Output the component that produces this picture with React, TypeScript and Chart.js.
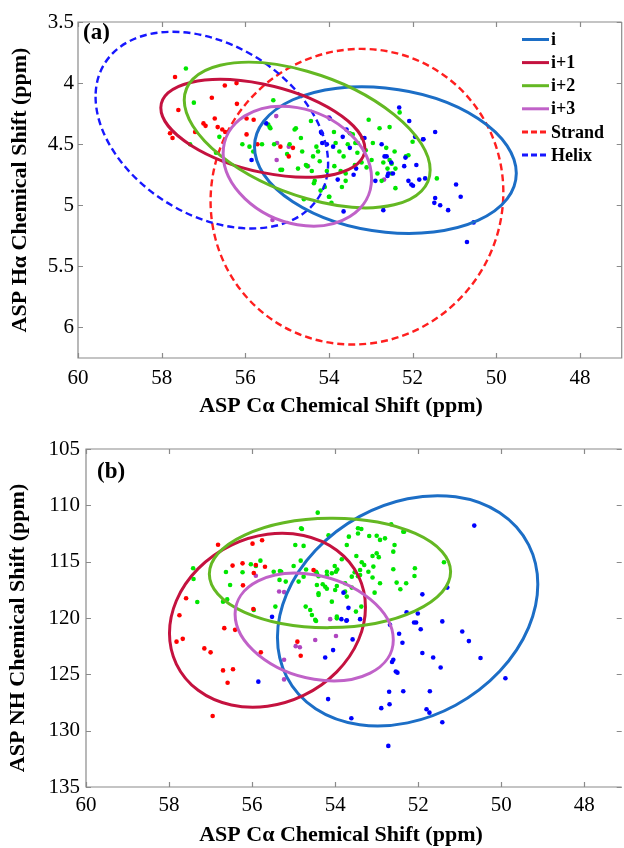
import React, { useEffect, useRef } from 'react';
import { Chart, registerables } from 'chart.js';
Chart.register(...registerables);

// ---------- tick labels ----------
const xTicks = [60, 58, 56, 54, 52, 50, 48];
const aYTicks = [3.5, 4, 4.5, 5, 5.5, 6];
const bYTicks = [105, 110, 115, 120, 125, 130, 135];

// ---------- categories ----------
const seriesLabels = ['i', 'i+1', 'i+2', 'i+3'];
const regionLabels = ['Strand', 'Helix'];

// ---------- panel (a): Cα vs Hα scatter ----------
const aI: number[][] = [
  [53.98, 4.29], [54.17, 4.41], [53.9, 4.52], [54.05, 4.5], [53.67, 4.44], [53.79, 4.79], [53.65, 5.05],
  [53.41, 4.75], [53.5, 4.53], [53.35, 4.7], [52.74, 4.5], [52.67, 4.6], [52.62, 4.6], [52.89, 4.8],
  [52.58, 4.74], [52.6, 4.76], [52.51, 4.65], [52.7, 5.04], [52.32, 4.2], [52.08, 4.31], [52.17, 4.61],
  [52.2, 4.68], [52.1, 4.8], [52.03, 4.83], [51.94, 4.44], [51.91, 4.67], [51.84, 4.79], [51.75, 4.46],
  [51.7, 4.78], [51.46, 4.4], [51.46, 4.94], [51.34, 5.0], [51.15, 5.04], [50.96, 4.83], [50.85, 4.93],
  [50.54, 5.14], [50.7, 5.3], [55.5, 4.33], [55.85, 4.63], [54.16, 4.49], [53.58, 4.38], [53.15, 4.45],
  [52.47, 4.74], [51.99, 4.84], [51.74, 4.46], [54.19, 4.4], [51.48, 4.98]
];
const aI1: number[][] = [
  [57.68, 3.95], [57.6, 4.22], [57.8, 4.41], [57.74, 4.45], [57.2, 4.4], [57.0, 4.33], [56.95, 4.35],
  [56.8, 4.12], [56.73, 4.29], [56.66, 4.36], [56.49, 4.02], [56.48, 4.4], [56.21, 4.0], [56.2, 4.17],
  [55.97, 4.29], [55.8, 4.3], [55.97, 4.42], [55.71, 4.5], [55.16, 4.52], [54.96, 4.6], [54.86, 4.53],
  [56.55, 4.38]
];
const aI2: number[][] = [
  [57.42, 3.88], [57.23, 4.16], [57.32, 4.5], [56.62, 4.44], [56.7, 4.57], [56.07, 4.5], [55.9, 4.52],
  [55.81, 4.56], [55.6, 4.5], [55.45, 4.34], [55.4, 4.37], [55.33, 4.14], [55.31, 4.5], [55.12, 4.71],
  [54.79, 4.37], [54.67, 4.45], [54.64, 4.56], [54.55, 4.67], [54.41, 4.72], [54.36, 4.82], [54.26, 4.56],
  [54.22, 4.64], [54.1, 4.85], [53.99, 4.93], [53.94, 4.98], [53.88, 4.4], [53.84, 4.49], [53.69, 4.85],
  [53.65, 4.6], [53.6, 4.74], [53.55, 4.5], [53.5, 4.41], [53.38, 4.67], [53.37, 4.49], [53.32, 4.57],
  [53.22, 4.65], [53.12, 4.55], [53.05, 4.3], [52.98, 4.63], [52.95, 4.49], [52.84, 4.74], [52.79, 4.37],
  [52.74, 4.8], [52.7, 4.65], [52.55, 4.63], [52.51, 4.74], [52.43, 4.56], [52.41, 4.7], [52.55, 4.36],
  [52.31, 4.24], [52.16, 4.6], [52.1, 4.59], [52.41, 4.86], [51.42, 4.78], [55.42, 4.36], [54.82, 4.38],
  [55.16, 4.71], [54.74, 4.7], [54.52, 4.68], [54.43, 4.31], [54.38, 4.6], [54.34, 4.8], [54.2, 4.88],
  [54.0, 4.93], [53.87, 4.68], [53.75, 4.56], [53.72, 4.72], [53.6, 4.8], [53.43, 4.42], [53.31, 4.49],
  [53.2, 4.45], [53.15, 4.55], [53.1, 4.69], [52.63, 4.53], [52.6, 4.7], [52.5, 4.66], [52.0, 4.48],
  [54.94, 4.5], [55.0, 4.58], [54.6, 4.95], [54.05, 4.72], [54.3, 4.52]
];
const aI3: number[][] = [
  [55.26, 4.27], [55.24, 4.49], [55.25, 4.63], [54.96, 4.52], [54.5, 4.68], [54.0, 4.28], [52.68, 4.79],
  [55.35, 5.12]
];

// ---------- panel (b): Cα vs NH scatter ----------
const bI: number[][] = [
  [50.65, 111.8], [51.3, 117.3], [51.9, 117.9], [53.8, 117.75], [53.68, 119.1], [53.73, 120.25], [53.4, 120.1],
  [53.58, 121.9], [54.05, 122.85], [54.24, 123.5], [54.17, 127.2], [53.61, 128.9], [52.72, 131.35],
  [52.68, 120.6], [52.46, 121.4], [52.38, 122.2], [52.6, 123.7], [52.63, 123.9], [52.54, 124.75],
  [52.5, 124.85], [52.7, 126.55], [52.69, 127.65], [52.89, 128.0], [52.36, 126.5], [52.28, 119.5],
  [52.1, 120.4], [52.05, 120.4], [52.01, 119.6], [51.94, 121.0], [51.9, 123.1], [51.64, 123.5],
  [51.46, 124.4], [51.72, 126.5], [51.8, 128.1], [51.73, 128.4], [51.42, 129.25], [51.42, 120.3],
  [50.94, 121.2], [50.78, 122.05], [50.5, 123.55], [49.9, 125.35], [55.52, 119.9], [55.85, 125.65],
  [53.72, 120.2], [53.85, 120.1]
];
const bI1: number[][] = [
  [56.82, 113.5], [55.99, 113.4], [55.76, 113.1], [56.47, 115.35], [56.23, 115.15], [55.91, 115.3],
  [55.69, 115.45], [56.22, 117.1], [55.96, 116.0], [57.59, 118.25], [57.75, 119.75], [57.82, 122.1],
  [57.67, 121.85], [56.67, 120.9], [56.41, 121.05], [55.97, 119.2], [57.15, 122.7], [57.0, 123.05],
  [56.7, 124.65], [56.46, 124.55], [56.59, 125.75], [56.95, 128.7], [55.79, 123.05], [54.52, 115.75],
  [54.83, 123.35], [54.91, 122.1]
];
const bI2: number[][] = [
  [54.42, 110.65], [54.8, 112.1], [54.16, 112.66], [53.45, 112.5], [53.37, 112.1], [53.72, 113.52],
  [53.18, 112.72], [53.0, 112.7], [52.92, 113.07], [52.8, 112.93], [52.65, 111.68], [52.57, 113.52],
  [52.36, 112.34], [52.6, 114.11], [53.0, 114.26], [53.1, 114.5], [52.95, 114.6], [53.84, 114.79],
  [53.49, 114.5], [53.36, 115.05], [53.3, 115.3], [53.08, 115.44], [53.2, 115.9], [53.53, 115.94],
  [53.45, 116.3], [54.01, 115.38], [53.95, 115.7], [54.08, 116.03], [53.76, 116.92], [53.6, 117.3],
  [54.46, 115.89], [54.4, 116.3], [54.2, 116.2], [54.83, 114.91], [54.76, 116.33], [54.7, 115.7],
  [54.4, 117.81], [54.3, 117.0], [54.2, 117.4], [53.96, 117.16], [53.72, 118.1], [53.4, 116.18],
  [53.1, 116.4], [53.05, 117.75], [52.92, 116.92], [52.6, 115.67], [52.52, 116.86], [52.43, 117.45],
  [52.29, 116.92], [52.08, 115.59], [52.09, 116.27], [51.38, 115.05], [54.56, 119.73], [54.46, 120.26],
  [53.96, 119.88], [53.5, 119.43], [53.37, 118.99], [54.71, 118.99], [54.6, 119.29], [54.4, 117.96],
  [54.08, 118.55], [53.76, 117.66], [54.48, 120.17], [53.96, 120.03], [57.42, 115.59], [57.41, 116.54],
  [57.32, 118.58], [56.63, 115.92], [56.53, 117.07], [56.23, 115.94], [56.03, 115.23], [55.91, 115.38],
  [55.8, 114.91], [55.48, 115.89], [55.33, 115.83], [55.34, 116.62], [55.0, 115.38], [55.19, 116.77],
  [54.88, 116.77], [55.44, 118.99], [56.7, 118.55], [55.96, 119.29], [54.96, 113.52], [54.76, 113.6],
  [54.82, 112.04], [54.44, 116.03], [54.2, 115.89], [53.98, 115.89], [53.6, 116.33], [53.4, 115.74],
  [54.44, 117.07], [54.24, 117.22], [54.0, 117.51], [53.67, 112.78], [53.45, 112.04], [52.34, 112.34],
  [56.6, 118.35], [55.3, 115.9]
];
const bI3: number[][] = [
  [55.91, 116.25], [55.23, 117.7], [55.35, 117.65], [54.12, 120.1], [54.48, 121.95], [53.98, 121.6],
  [54.95, 122.5], [54.85, 122.6], [55.23, 123.7], [55.23, 125.45]
];

// ---------- ellipse parameters (centre, half-extent, correlation) ----------
// order: i, i+1, i+2, i+3, Strand, Helix
const aEllCx = [52.65, 55.58, 54.52, 54.755, 53.33, 56.8];
const aEllCy = [4.63, 4.37, 4.425, 4.68, 4.93, 4.385];
const aEllSx = [3.13, 2.44, 2.94, 1.775, 3.5, 2.78];
const aEllSy = [0.6, 0.4, 0.595, 0.49, 1.21, 0.805];
const aEllRho = [-0.18, -0.42, -0.48, -0.21, 0.03, -0.34];
// order: i, i+1, i+2, i+3
const bEllCx = [52.255, 55.63, 54.125, 54.505];
const bEllCy = [119.36, 120.2, 116.0, 120.8];
const bEllSx = [3.135, 2.36, 2.905, 1.905];
const bEllSy = [10.22, 7.72, 4.855, 4.78];
const bEllRho = [0.23, 0.15, 0.02, -0.24];

// ---------- styles ----------
const FONT = "'Liberation Serif', 'Times New Roman', serif";
const lineColors = ['#1c6ec6', '#c4123f', '#64b823', '#c062c8', '#ff1f1f', '#1717ff'];
const dotColors = ['#0000ff', '#ff0000', '#00e600', '#b045c0'];
const lineDash = [[], [], [], [], [7, 4], [7, 4]];
const lineWidths = [3, 3, 3, 3, 2.4, 2.4];
const FRAME = '#8a8a8a';

type PanelOpts = {
  ellipses: { cx: number[]; cy: number[]; sx: number[]; sy: number[]; rho: number[] };
  panelLabel: string;
  labelPos: [number, number];
  xTitle: string;
  xTitlePos: [number, number];
  yTitle: string;
  yTitlePos: [number, number];
  legend: boolean;
  rightBorder: boolean;
  yTicks: number[];
};

function overlayPlugin(o: PanelOpts) {
  return {
    id: 'overlay',
    afterDatasetsDraw(chart: any) {
      const ctx = chart.ctx as CanvasRenderingContext2D;
      const a = chart.chartArea;
      const xs = chart.scales.x;
      const ys = chart.scales.y;
      ctx.save();
      ctx.beginPath();
      ctx.rect(a.left, a.top, a.right - a.left, a.bottom - a.top);
      ctx.clip();
      const e = o.ellipses;
      const order = e.cx.map((_, i) => i).sort((p, q) => (p >= 4 ? 0 : 1) - (q >= 4 ? 0 : 1));
      for (const i of order) {
        const cxp = xs.getPixelForValue(e.cx[i]);
        const cyp = ys.getPixelForValue(e.cy[i]);
        const kx = xs.getPixelForValue(e.cx[i] + e.sx[i]) - cxp;
        const ky = ys.getPixelForValue(e.cy[i] + e.sy[i]) - cyp;
        const r = e.rho[i];
        ctx.beginPath();
        ctx.save();
        ctx.transform(kx, ky * r, 0, ky * Math.sqrt(1 - r * r), cxp, cyp);
        ctx.arc(0, 0, 1, 0, Math.PI * 2);
        ctx.restore();
        ctx.strokeStyle = lineColors[i];
        ctx.lineWidth = lineWidths[i];
        ctx.setLineDash(lineDash[i]);
        ctx.stroke();
      }
      ctx.restore();
    },
    afterDraw(chart: any) {
      const ctx = chart.ctx as CanvasRenderingContext2D;
      const a = chart.chartArea;
      const xs = chart.scales.x;
      const ys = chart.scales.y;
      ctx.save();
      ctx.strokeStyle = FRAME;
      ctx.lineWidth = 1.2;
      ctx.setLineDash([]);
      ctx.beginPath();
      ctx.moveTo(a.right, a.top);
      ctx.lineTo(a.left, a.top);
      ctx.lineTo(a.left, a.bottom);
      ctx.lineTo(a.right, a.bottom);
      if (o.rightBorder) ctx.lineTo(a.right, a.top);
      ctx.stroke();
      const TL = 5;
      ctx.beginPath();
      for (const v of xTicks) {
        const px = Math.round(xs.getPixelForValue(v)) + 0.5;
        ctx.moveTo(px, a.bottom);
        ctx.lineTo(px, a.bottom - TL);
        ctx.moveTo(px, a.top);
        ctx.lineTo(px, a.top + TL);
      }
      for (const v of o.yTicks) {
        const py = Math.round(ys.getPixelForValue(v)) + 0.5;
        ctx.moveTo(a.left, py);
        ctx.lineTo(a.left + TL, py);
        ctx.moveTo(a.right, py);
        ctx.lineTo(a.right - TL, py);
      }
      ctx.stroke();

      // titles
      ctx.fillStyle = '#000';
      ctx.font = `bold 22px ${FONT}`;
      ctx.textAlign = 'center';
      ctx.textBaseline = 'middle';
      ctx.fillText(o.xTitle, o.xTitlePos[0], o.xTitlePos[1]);
      ctx.save();
      ctx.translate(o.yTitlePos[0], o.yTitlePos[1]);
      ctx.rotate(-Math.PI / 2);
      ctx.fillText(o.yTitle, 0, 0);
      ctx.restore();

      ctx.font = `bold 23px ${FONT}`;
      ctx.textAlign = 'left';
      ctx.fillText(o.panelLabel, o.labelPos[0], o.labelPos[1]);

      if (o.legend) {
        const labels = [...seriesLabels, ...regionLabels];
        ctx.font = `bold 18px ${FONT}`;
        labels.forEach((lab, i) => {
          const y = 39.5 + i * 23.1;
          ctx.beginPath();
          ctx.moveTo(522, y);
          ctx.lineTo(549, y);
          ctx.strokeStyle = lineColors[i];
          ctx.lineWidth = 3;
          ctx.setLineDash(i >= 4 ? [6, 3] : []);
          ctx.stroke();
          ctx.setLineDash([]);
          ctx.fillStyle = '#000';
          ctx.fillText(lab, 551, y + 1);
        });
      }
      ctx.restore();
    }
  };
}

function buildConfig(
  series: number[][][],
  yMin: number,
  yMax: number,
  xMin: number,
  yTicks: number[],
  layout: { top: number; right: number; yWidth: number; xHeight: number; xPad: number; yPad: number },
  o: PanelOpts
) {
  return {
    type: 'scatter' as const,
    data: {
      datasets: series.map((pts, i) => ({
        label: seriesLabels[i],
        data: pts.map(([x, y]) => ({ x, y })),
        backgroundColor: dotColors[i],
        borderWidth: 0,
        pointRadius: 2.3,
        pointHoverRadius: 2.3
      }))
    },
    options: {
      animation: false as const,
      responsive: false,
      events: [],
      layout: { padding: { top: layout.top, right: layout.right, left: 0, bottom: 0 } },
      plugins: { legend: { display: false }, tooltip: { enabled: false } },
      scales: {
        x: {
          type: 'linear' as const,
          min: xMin,
          max: 60,
          reverse: true,
          afterBuildTicks: (s: any) => {
            s.ticks = xTicks.map((v) => ({ value: v }));
          },
          afterFit: (s: any) => {
            s.height = layout.xHeight;
          },
          grid: { display: false, drawTicks: false },
          border: { display: false },
          ticks: {
            color: '#000',
            font: { family: FONT, size: 21 },
            padding: layout.xPad,
            maxRotation: 0,
            autoSkip: false,
            callback: (v: any) => String(v)
          }
        },
        y: {
          type: 'linear' as const,
          min: yMin,
          max: yMax,
          reverse: true,
          afterBuildTicks: (s: any) => {
            s.ticks = yTicks.map((v) => ({ value: v }));
          },
          afterFit: (s: any) => {
            s.width = layout.yWidth;
          },
          grid: { display: false, drawTicks: false },
          border: { display: false },
          ticks: {
            color: '#000',
            font: { family: FONT, size: 21 },
            padding: layout.yPad,
            autoSkip: false,
            callback: (v: any) => String(v)
          }
        }
      }
    },
    plugins: [overlayPlugin(o)]
  };
}

export default function App() {
  const refA = useRef<HTMLCanvasElement>(null);
  const refB = useRef<HTMLCanvasElement>(null);

  useEffect(() => {
    const cfgA = buildConfig(
      [aI, aI1, aI2, aI3],
      3.5,
      6.25,
      47,
      aYTicks,
      { top: 22, right: 1, yWidth: 78, xHeight: 62, xPad: 8, yPad: 4 },
      {
        ellipses: { cx: aEllCx, cy: aEllCy, sx: aEllSx, sy: aEllSy, rho: aEllRho },
        panelLabel: '(a)',
        labelPos: [83, 33],
        xTitle: 'ASP Cα Chemical Shift (ppm)',
        xTitlePos: [341, 406],
        yTitle: 'ASP Hα Chemical Shift (ppm)',
        yTitlePos: [20, 190],
        legend: true,
        rightBorder: true,
        yTicks: aYTicks
      }
    );
    const cfgB = buildConfig(
      [bI, bI1, bI2, bI3],
      105,
      135,
      47.1,
      bYTicks,
      { top: 29, right: 0, yWidth: 86, xHeight: 61, xPad: 6, yPad: 6 },
      {
        ellipses: { cx: bEllCx, cy: bEllCy, sx: bEllSx, sy: bEllSy, rho: bEllRho },
        panelLabel: '(b)',
        labelPos: [97, 52],
        xTitle: 'ASP Cα Chemical Shift (ppm)',
        xTitlePos: [341, 415],
        yTitle: 'ASP NH Chemical Shift (ppm)',
        yTitlePos: [18, 208],
        legend: false,
        rightBorder: false,
        yTicks: bYTicks
      }
    );
    const ca = new Chart(refA.current as HTMLCanvasElement, cfgA as any);
    const cb = new Chart(refB.current as HTMLCanvasElement, cfgB as any);
    return () => {
      ca.destroy();
      cb.destroy();
    };
  }, []);

  return (
    <div style={{ position: 'absolute', left: 0, top: 0, width: 624, height: 848, background: '#fff' }}>
      <canvas ref={refA} width={624} height={420} style={{ display: 'block', width: 624, height: 420 }} />
      <canvas ref={refB} width={624} height={428} style={{ display: 'block', width: 624, height: 428 }} />
    </div>
  );
}
